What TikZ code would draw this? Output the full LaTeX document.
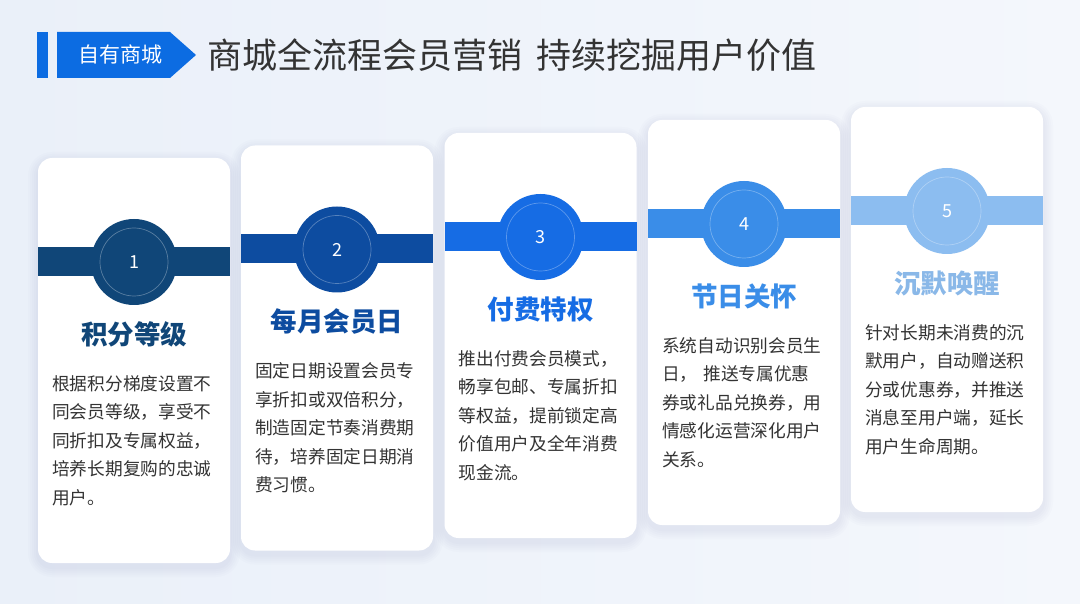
\documentclass[tikz,border=0pt]{standalone}
\usepackage{fontspec}
\setmainfont{Noto Sans CJK SC}
\definecolor{bgL}{RGB}{234,240,249}
\definecolor{bgR}{RGB}{244,247,252}
\definecolor{hdblue}{RGB}{12,108,226}
\definecolor{titlegray}{RGB}{51,51,51}
\definecolor{txt}{RGB}{51,51,51}
\definecolor{shd}{RGB}{120,140,180}
\definecolor{cA}{RGB}{16,70,120}
\definecolor{cB}{RGB}{13,76,160}
\definecolor{cC}{RGB}{22,108,228}
\definecolor{cD}{RGB}{58,141,232}
\definecolor{cE}{RGB}{140,189,240}
\definecolor{tE}{RGB}{138,184,232}
\tikzset{
  cardbox/.style={draw=none, fill=white, rounded corners=14pt, minimum width=192pt, minimum height=405pt, inner sep=0pt},
  numcirc/.style={circle, minimum size=86pt, inner sep=0pt, text=white, font=\fontsize{18}{20}\selectfont},
  cardtitle/.style={inner sep=0pt, font=\fontsize{26.5}{30}\selectfont\bfseries},
  bodytext/.style={inner sep=0pt, text width=180pt, align=left, text=txt, font=\fontsize{17.7}{28.5}\selectfont},
  shadowlayer/.style={fill=shd, fill opacity=0.025, draw=none},
}
\newcommand\mycard[7]{%
  \foreach \s in {2,4,6,8,10}{%
    \fill[shadowlayer, rounded corners=14pt+\s pt] (#2-\s,#3-\s+4) rectangle (#2+192+\s,#3+405+\s+4);
  }
  \node[cardbox] (card#1) at (#2+96,#3+202.5) {};
  \fill[#4] (#2,#3+89) rectangle (#2+192,#3+118);
  \node[numcirc, fill=#4] (circ#1) at (#2+96,#3+104) {#1};
  \draw[white, opacity=0.3, line width=0.7pt] (circ#1.center) circle (34pt);
  \node[cardtitle, text=#5] (ttl#1) at (#2+96,#3+176) {#6};
  \node[bodytext, anchor=north west] (body#1) at (#2+14,#3+217) {#7};
}
\begin{document}
\begin{tikzpicture}[x=1pt,y=-1pt]
\useasboundingbox (0,0) rectangle (1080,604);
\shade[left color=bgL, right color=bgR] (0,0) rectangle (1080,604);
% header
\fill[hdblue] (37,32) rectangle (48,78);
\fill[hdblue] (57,32) -- (170,32) -- (196,55) -- (170,78) -- (57,78) -- cycle;
\node[text=white, inner sep=0pt, font=\fontsize{21}{24}\selectfont] (tag) at (120,55) {自有商城};
\node[anchor=west, text=titlegray, inner sep=0pt, font=\fontsize{35}{38}\selectfont] (title) at (207,55) {商城全流程会员营销\hspace{14pt}持续挖掘用户价值};
% cards
\mycard{1}{38}{158}{cA}{cA}{积分等级}{根据积分梯度设置不\\同会员等级，享受不\\同折扣及专属权益，\\培养长期复购的忠诚\\用户。}
\mycard{2}{241}{145.5}{cB}{cB}{每月会员日}{固定日期设置会员专\\享折扣或双倍积分，\\制造固定节奏消费期\\待，培养固定日期消\\费习惯。}
\mycard{3}{444.5}{133}{cC}{cC}{付费特权}{推出付费会员模式，\\畅享包邮、专属折扣\\等权益，提前锁定高\\价值用户及全年消费\\现金流。}
\mycard{4}{648}{120}{cD}{cD}{节日关怀}{系统自动识别会员生\\日， 推送专属优惠\\券或礼品兑换券，用\\情感化运营深化用户\\关系。}
\mycard{5}{851}{107}{cE}{tE}{沉默唤醒}{针对长期未消费的沉\\默用户，自动赠送积\\分或优惠券，并推送\\消息至用户端，延长\\用户生命周期。}
\end{tikzpicture}
\end{document}
